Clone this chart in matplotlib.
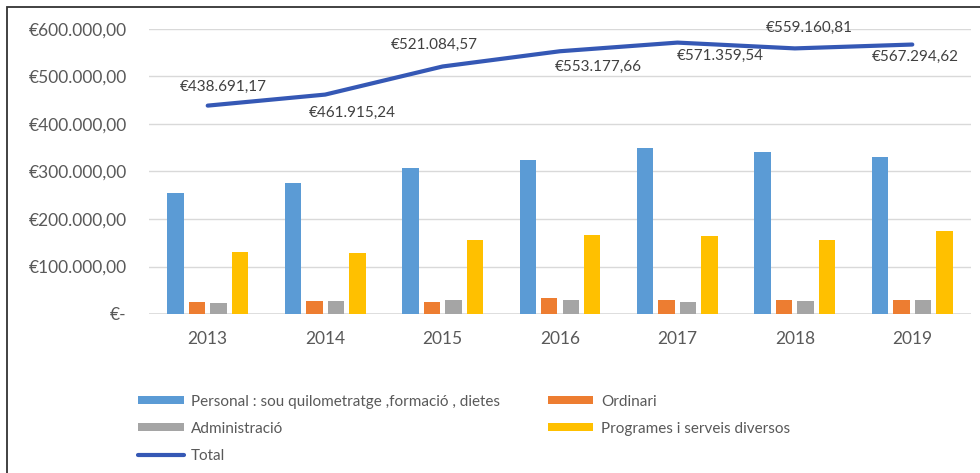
import numpy as np
import matplotlib
matplotlib.use("Agg")
import matplotlib.pyplot as plt
from matplotlib.patches import Rectangle

plt.rcParams["font.family"] = ["Lato", "DejaVu Sans"]

years = ["2013", "2014", "2015", "2016", "2017", "2018", "2019"]
personal = [255000, 276000, 307000, 324000, 349000, 342000, 331000]
ordinari = [25000, 27000, 26000, 33000, 29000, 29000, 29000]
administracio = [23000, 27000, 29000, 29000, 26000, 27000, 29000]
programes = [131000, 128000, 156000, 166000, 164000, 156000, 175000]
total = [438691.17, 461915.24, 521084.57, 553177.66, 571359.54, 559160.81, 567294.62]
total_labels = ["€438.691,17", "€461.915,24", "€521.084,57", "€553.177,66",
                "€571.359,54", "€559.160,81", "€567.294,62"]
y_ticks = [0, 100000, 200000, 300000, 400000, 500000, 600000]
y_tick_labels = ["€-", "€100.000,00", "€200.000,00", "€300.000,00",
                 "€400.000,00", "€500.000,00", "€600.000,00"]

series_names = ["Personal : sou quilometratge ,formació , dietes", "Ordinari",
                "Administració", "Programes i serveis diversos"]
colors = ["#5B9BD5", "#ED7D31", "#A5A5A5", "#FFC000"]
line_color = "#3558B5"
text_color = "#595959"

# label offsets in pixels (manual placement as in the original)
label_offsets = [(16, 19), (27, -18), (-8, 22), (38, -16), (43, -13), (14, 21), (3, -12)]

fig = plt.figure(figsize=(9.8, 4.73), dpi=100)
ax = fig.add_axes([149 / 980, 1 - 314 / 473, (971 - 149) / 980, (314 - 29) / 473])

x = np.arange(len(years))
pitch = 0.183
width = 0.14
bars = []
for i, (vals, c, name) in enumerate(zip([personal, ordinari, administracio, programes], colors, series_names)):
    b = ax.bar(x + (i - 1.5) * pitch, vals, width=width, color=c, label=name, zorder=3)
    bars.append(b)

line, = ax.plot(x, total, color=line_color, lw=3, label="Total", zorder=4, solid_capstyle="round")
for xi, yi, lab, off in zip(x, total, total_labels, label_offsets):
    ax.annotate(lab, (xi, yi), xytext=off, textcoords="offset pixels",
                ha="center", va="center", fontsize=11, color="#404040")

ax.set_xlim(-0.5, len(years) - 0.5)
ax.set_ylim(0, 600000)
ax.set_yticks(y_ticks)
ax.set_yticklabels(y_tick_labels)
ax.set_xticks(x)
ax.set_xticklabels(years)
ax.tick_params(axis="both", length=0, labelsize=12.5, colors=text_color)
ax.tick_params(axis="y", pad=16)
ax.tick_params(axis="x", pad=12)
ax.grid(axis="y", color="#D9D9D9", lw=1, zorder=0)
for s in ax.spines.values():
    s.set_visible(False)
ax.axhline(0, color="#D9D9D9", lw=1.2, zorder=2)

handles = [bars[0], bars[2], line, bars[1], bars[3]]
labels = [series_names[0], series_names[2], "Total", series_names[1], series_names[3]]
leg = fig.legend(handles, labels, ncol=2, loc="upper left",
                 bbox_to_anchor=(124 / 980, 1 - 381 / 473), frameon=False,
                 fontsize=11, handlelength=3.0, handleheight=0.4,
                 handletextpad=0.5, columnspacing=3.1, labelspacing=0.85,
                 labelcolor=text_color)

fig.patches.append(Rectangle((7 / 980, -0.05), 1.1, 1 - 7 / 473 + 0.05,
                             transform=fig.transFigure, fill=False,
                             edgecolor="#333333", lw=1.3))

fig.savefig("out.png", dpi=100)
